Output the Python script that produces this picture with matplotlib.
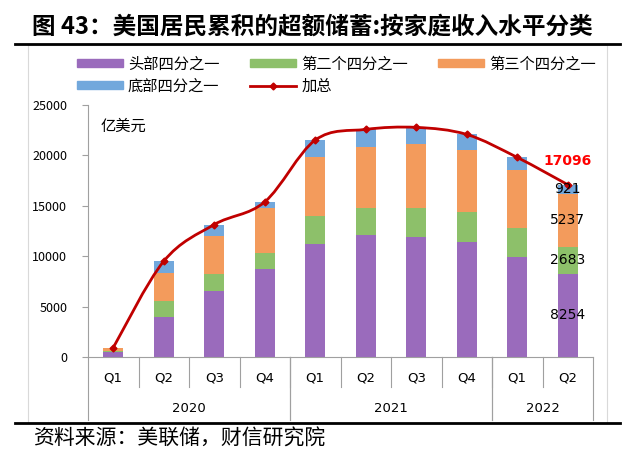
import numpy as np
import matplotlib
matplotlib.use('Agg')
import matplotlib.pyplot as plt
from matplotlib.path import Path
from matplotlib.patches import PathPatch, Patch, Rectangle
from matplotlib.lines import Line2D
import matplotlib.transforms as mtransforms

plt.rcParams['font.family'] = ['Noto Sans CJK SC', 'DejaVu Sans']

quarters = ['Q1', 'Q2', 'Q3', 'Q4', 'Q1', 'Q2', 'Q3', 'Q4', 'Q1', 'Q2']
years = ['2020', '2021', '2022']
year_spans = [(0, 4), (4, 8), (8, 10)]

top_q = [450, 3970, 6550, 8710, 11190, 12080, 11920, 11360, 9930, 8254]
second_q = [100, 1590, 1730, 1620, 2780, 2750, 2910, 3010, 2850, 2683]
third_q = [300, 2780, 3740, 4470, 5890, 6020, 6260, 6160, 5760, 5237]
bottom_q = [80, 1160, 1120, 590, 1660, 1730, 1690, 1550, 1260, 921]
total = [930, 9500, 13140, 15390, 21520, 22580, 22780, 22080, 19800, 17096]

names = ['头部四分之一', '第二个四分之一', '第三个四分之一', '底部四分之一', '加总']
colors = ['#9A6BBC', '#8DC06A', '#F39B5C', '#72A8DC']
line_color = '#C00000'

fig = plt.figure(figsize=(6.4, 4.65), dpi=100)
ax = fig.add_axes([88 / 640, 1 - 357 / 465, 505 / 640, 252 / 465])

x = np.arange(len(quarters))
series = [top_q, second_q, third_q, bottom_q]
base = np.zeros(len(x))
for vals, c in zip(series, colors):
    ax.bar(x, vals, 0.4, bottom=base, color=c, zorder=2)
    base += np.array(vals)

# smoothed total line (Catmull-Rom as cubic Bezier segments)
pts = np.column_stack([x, total]).astype(float)
verts = [pts[0]]
codes = [Path.MOVETO]
n = len(pts)
for i in range(n - 1):
    p0 = pts[max(i - 1, 0)]
    p1 = pts[i]
    p2 = pts[i + 1]
    p3 = pts[min(i + 2, n - 1)]
    c1 = p1 + (p2 - p0) / 6
    c2 = p2 - (p3 - p1) / 6
    verts += [c1, c2, p2]
    codes += [Path.CURVE4] * 3
ax.add_patch(PathPatch(Path(verts, codes), fill=False, edgecolor=line_color, lw=2, zorder=3))
ax.plot(x, total, ls='none', marker='D', ms=3.5, color=line_color, zorder=4)

# data labels for last quarter
last = len(x) - 1
ax.text(last, total[last] + 2300, f'{total[last]}', color='#FF0000', fontweight='bold',
        fontsize=10, ha='center', va='center', family=['DejaVu Sans'], zorder=5)
cum = 0
for vals in series:
    v = vals[last]
    ax.text(last, cum + v / 2, f'{v}', fontsize=10, ha='center', va='center',
            family=['DejaVu Sans'], zorder=5)
    cum += v

ax.set_xlim(-0.5, len(x) - 0.5)
ax.set_ylim(0, 25000)
ax.set_yticks(range(0, 25001, 5000))
ax.tick_params(axis='y', labelsize=9, length=4, pad=11, color='#A0A0A0', direction='out')
ax.set_xticks([])
for s in ['top', 'right']:
    ax.spines[s].set_visible(False)
ax.spines['left'].set_color('#A0A0A0')
ax.spines['bottom'].set_color('#A0A0A0')

ax.text(0.025, 0.95, '亿美元', transform=ax.transAxes, fontsize=11, va='top', ha='left')

# two-level category axis
trans = mtransforms.blended_transform_factory(ax.transData, fig.transFigure)
q_y = 1 - 378 / 465
yr_y = 1 - 408 / 465
for i, q in enumerate(quarters):
    ax.text(i, q_y, q, transform=trans, ha='center', va='center', fontsize=9.5,
            family=['DejaVu Sans'])
for i in range(1, len(x)):
    ax.plot([i - 0.5, i - 0.5], [1 - 357 / 465, 1 - 387 / 465], transform=trans,
            color='#A0A0A0', lw=0.8, clip_on=False)
for yr, (a, b) in zip(years, year_spans):
    ax.text((a + b - 1) / 2, yr_y, yr, transform=trans, ha='center', va='center',
            fontsize=9.5, family=['DejaVu Sans'])
    for edge in (a, b):
        ax.plot([edge - 0.5, edge - 0.5], [1 - 357 / 465, 1 - 420 / 465], transform=trans,
                color='#A0A0A0', lw=0.8, clip_on=False)

# legend
handles = [Patch(color=c) for c in colors]
handles.append(Line2D([], [], color=line_color, lw=2, marker='D', ms=3.5))
order = [0, 3, 1, 4, 2]
fig.legend([handles[i] for i in order], [names[i] for i in order], ncol=3,
           loc='center left', bbox_to_anchor=(66 / 640, 1 - 75 / 465), frameon=False,
           fontsize=11, handlelength=3.0, handleheight=0.45, columnspacing=2.0,
           labelspacing=0.3, handletextpad=0.35, borderpad=0.2)

# chart frame, title and source
fig.patches.append(Rectangle((28 / 640, 1 - 423 / 465), 579 / 640, 378 / 465,
                             transform=fig.transFigure, fill=False, edgecolor='#D9D9D9', lw=0.8))
fig.text(32 / 640, 1 - 27 / 465, '图 43：美国居民累积的超额储蓄:按家庭收入水平分类', ha='left', va='center',
         fontsize=17, fontweight='bold')
fig.add_artist(Line2D([15 / 640, 620 / 640], [1 - 44 / 465, 1 - 44 / 465], color='black', lw=2))
fig.add_artist(Line2D([15 / 640, 620 / 640], [1 - 423 / 465, 1 - 423 / 465], color='black', lw=2))
fig.text(33 / 640, 1 - 439 / 465, '资料来源：美联储，财信研究院', ha='left', va='center', fontsize=15)

fig.savefig('out.png', dpi=100)
